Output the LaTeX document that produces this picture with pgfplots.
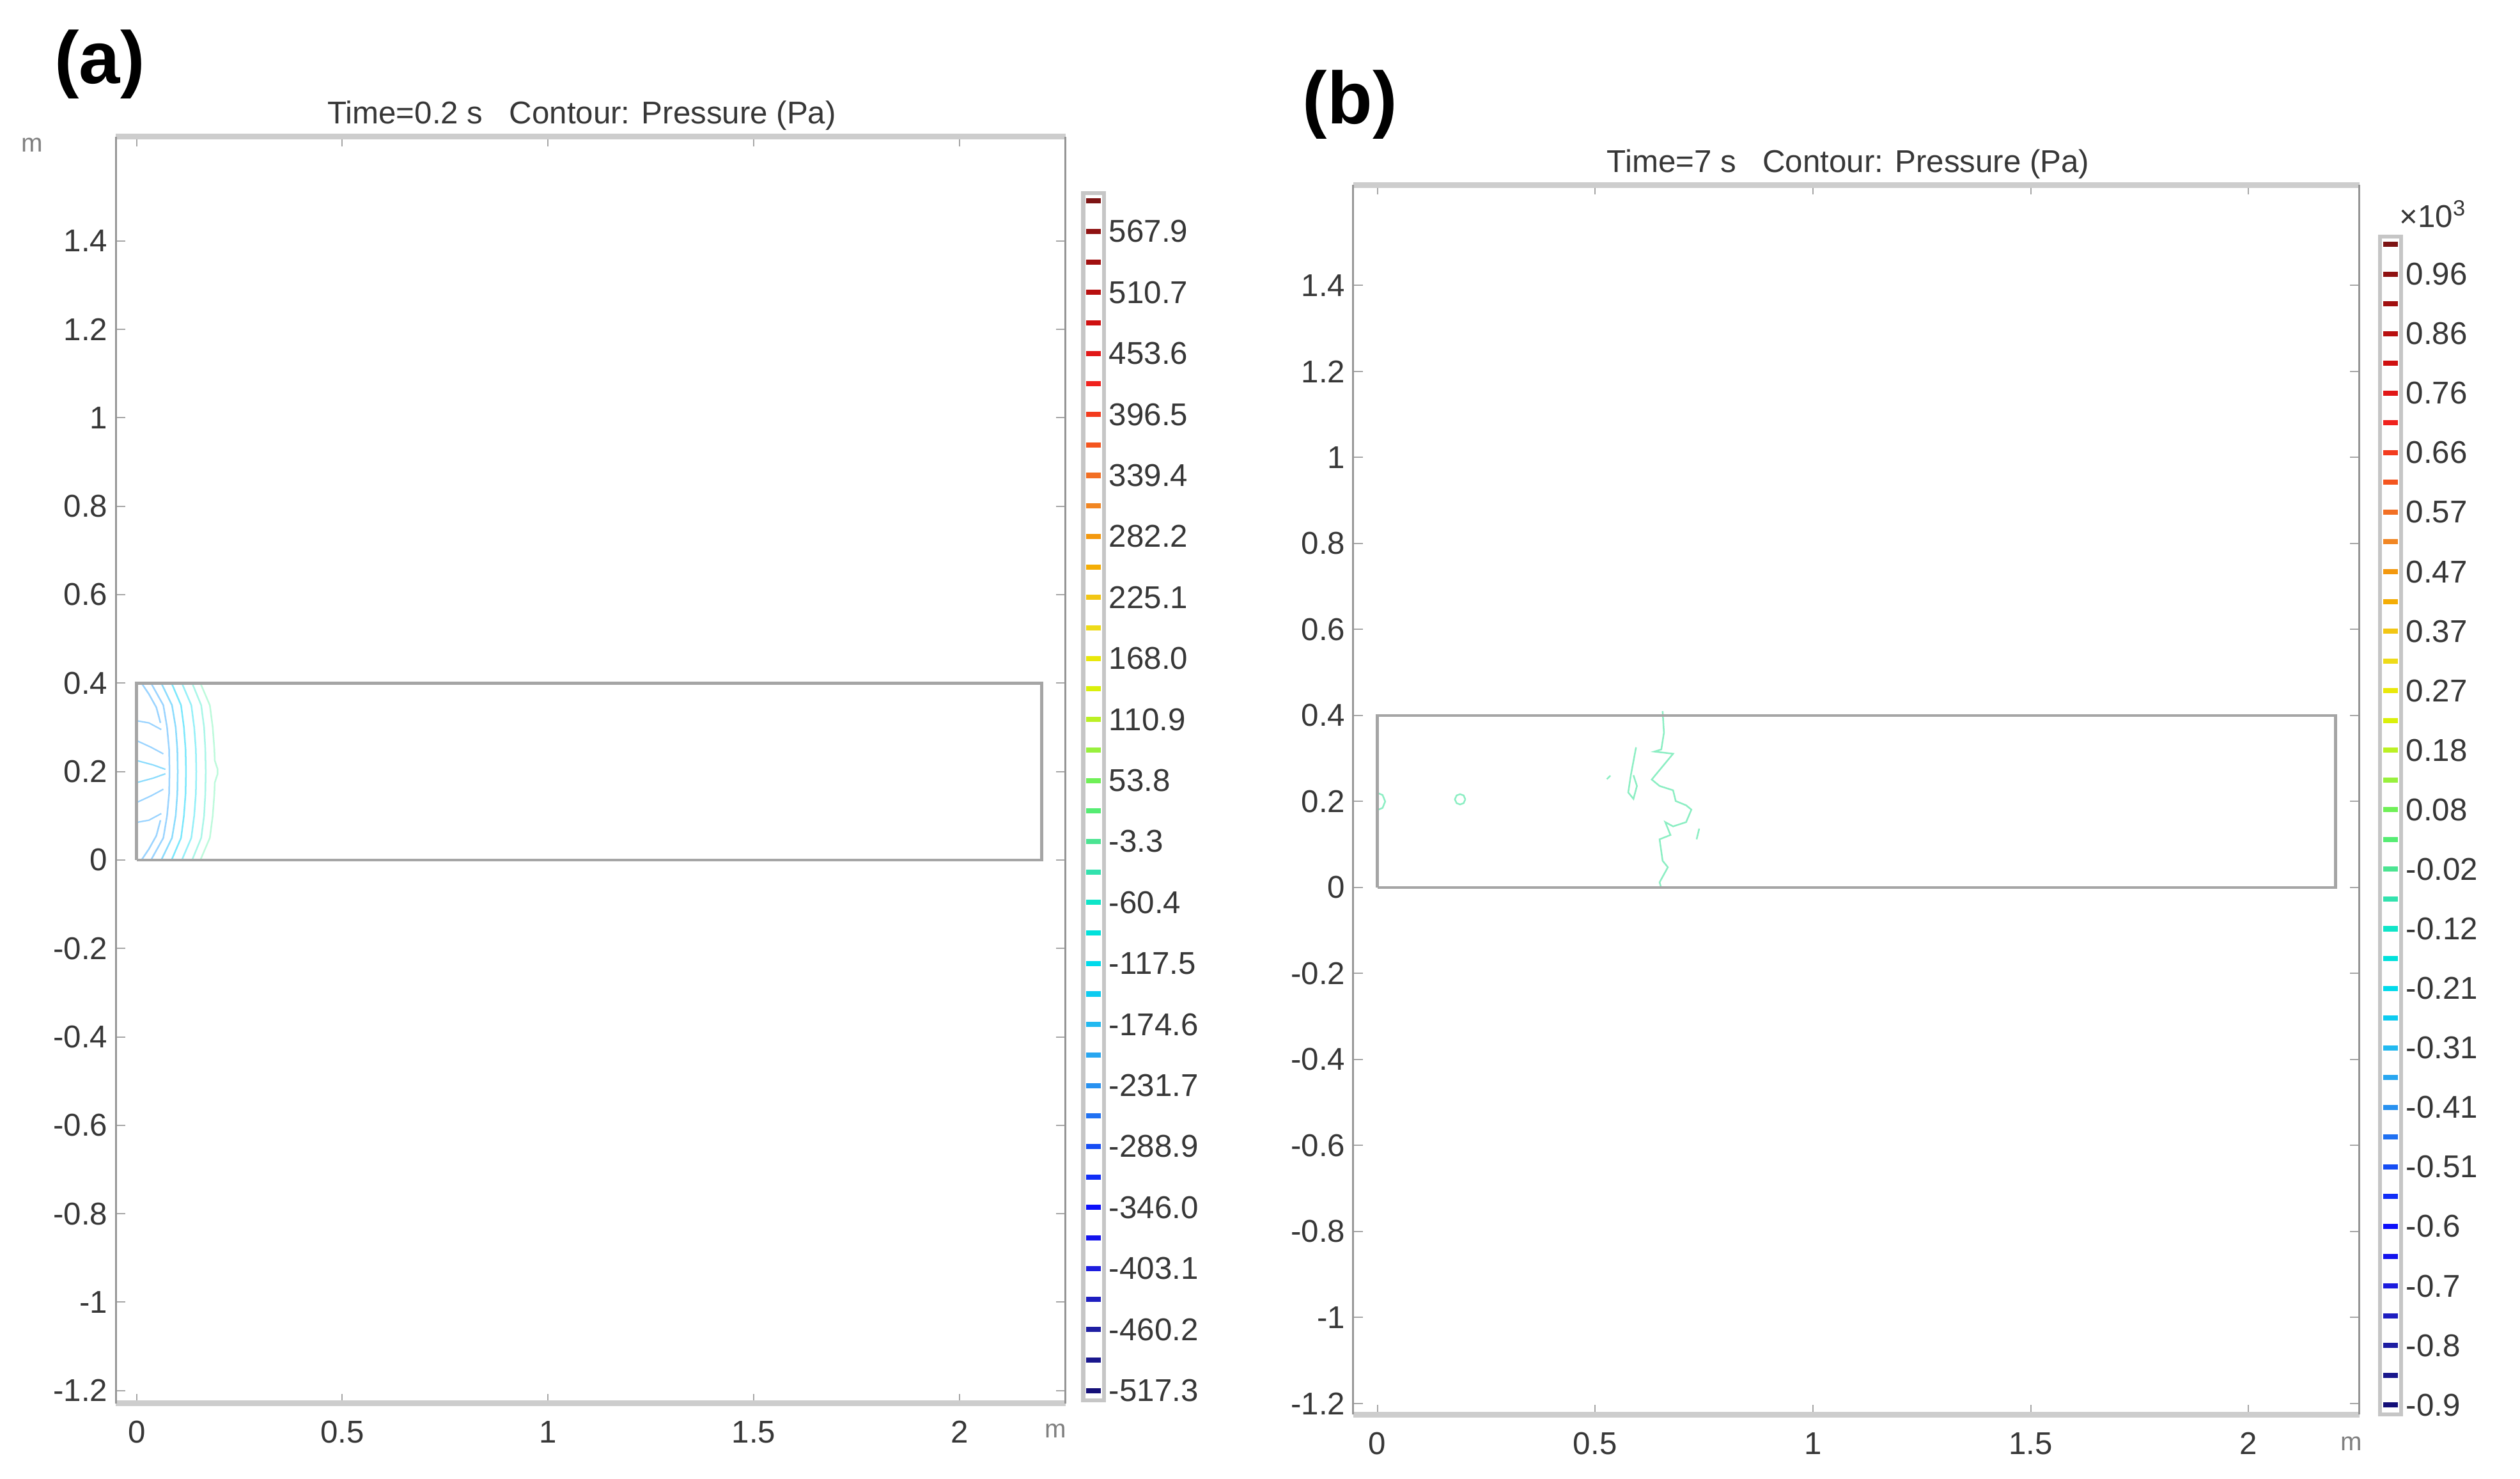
\documentclass[border=0pt]{standalone}
\usepackage{pgfplots}
\pgfplotsset{compat=1.18}
\usepackage{fontspec}
\setmainfont{Liberation Sans}
\setsansfont{Liberation Sans}
\definecolor{tickgray}{RGB}{55,55,55}
\definecolor{bandgray}{RGB}{205,205,205}
\definecolor{sidegray}{RGB}{150,150,150}
\definecolor{rectgray}{RGB}{165,165,165}
\definecolor{ca1}{RGB}{190,250,220}
\definecolor{ca2}{RGB}{170,246,232}
\definecolor{ca3}{RGB}{150,240,248}
\definecolor{ca4}{RGB}{125,232,252}
\definecolor{ca5}{RGB}{140,220,253}
\definecolor{ca6}{RGB}{155,212,255}
\definecolor{mint}{RGB}{140,238,195}
\pgfplotsset{colormap={comsol}{rgb255=(20,15,120) rgb255=(30,30,160) rgb255=(30,30,220) rgb255=(10,10,250) rgb255=(20,70,245) rgb255=(40,140,240) rgb255=(40,180,240) rgb255=(0,215,240) rgb255=(0,230,210) rgb255=(70,225,160) rgb255=(90,240,100) rgb255=(170,240,50) rgb255=(230,240,0) rgb255=(240,215,30) rgb255=(245,165,0) rgb255=(240,130,40) rgb255=(245,80,30) rgb255=(240,30,30) rgb255=(205,15,15) rgb255=(160,15,15) rgb255=(125,20,20)}}
\newcommand{\tf}{\fontsize{9.8}{10}\selectfont}
\pgfplotsset{
  comsolax/.style={
    scale only axis, separate axis lines,
    x axis line style={line width=1.8pt, bandgray},
    y axis line style={line width=0.6pt, sidegray},
    tick align=inside, major tick length=3pt,
    tick style={gray!70, line width=0.4pt},
    ticklabel style={font=\tf, text=tickgray},
    xtick={0,0.5,1,1.5,2}, xticklabels={0,0.5,1,1.5,2},
    xticklabel style={yshift=-2pt},
    ytick={-1.2,-1,-0.8,-0.6,-0.4,-0.2,0,0.2,0.4,0.6,0.8,1,1.2,1.4},
    yticklabels={-1.2,-1,-0.8,-0.6,-0.4,-0.2,0,0.2,0.4,0.6,0.8,1,1.2,1.4},
    yticklabel style={xshift=1pt},
  },
  cbar/.style={
    scale only axis, xmin=0, xmax=1, xtick=\empty,
    yticklabel pos=right, major tick length=0pt,
    axis line style={gray!45, line width=1.2pt},
    colormap name=comsol,
    yticklabel style={font=\tf, text=tickgray, xshift=-2pt},
  },
  cbarmarks/.style={scatter, only marks, mark=-, mark size=2.3pt, point meta=y,
    scatter/use mapped color={draw=mapped color, fill=mapped color},
    mark options={line width=1.6pt}},
}
\begin{document}
\begin{tikzpicture}
\useasboundingbox (0,0) rectangle (784pt,460pt);
% ---------------- panel (a) ----------------
\node[font=\fontsize{23}{25}\selectfont\bfseries] at (31pt,440pt) {(a)};
\node[font=\tf, text=tickgray] at (181pt,424pt) {Time=0.2 s \ \ Contour: Pressure (Pa)};
\node[font=\fontsize{8}{9}\selectfont, text=gray] at (10pt,415pt) {m};
\node[font=\fontsize{8}{9}\selectfont, text=gray] at (328.5pt,15pt) {m};
\begin{axis}[comsolax, at={(36pt,23.5pt)}, anchor=south west,
  width=295.5pt, height=394pt,
  xmin=-0.0508, xmax=2.258, ymin=-1.229, ymax=1.636]
\addplot[ca1, line width=0.5pt] coordinates {(0.155,0.4)(0.178,0.35)(0.185,0.3)(0.189,0.25)(0.19,0.225)(0.197,0.205)(0.197,0.195)(0.19,0.175)(0.189,0.15)(0.185,0.1)(0.178,0.05)(0.155,0)};
\addplot[ca2, line width=0.5pt] coordinates {(0.135,0.4)(0.157,0.35)(0.164,0.3)(0.167,0.25)(0.168,0.2)(0.167,0.15)(0.164,0.1)(0.157,0.05)(0.135,0)};
\addplot[ca3, line width=0.5pt] coordinates {(0.11,0.4)(0.133,0.35)(0.14,0.3)(0.144,0.25)(0.145,0.2)(0.144,0.15)(0.14,0.1)(0.133,0.05)(0.11,0)};
\addplot[ca4, line width=0.5pt] coordinates {(0.085,0.4)(0.108,0.35)(0.115,0.3)(0.119,0.25)(0.12,0.2)(0.119,0.15)(0.115,0.1)(0.108,0.05)(0.085,0)};
\addplot[ca5, line width=0.5pt] coordinates {(0.06,0.4)(0.086,0.35)(0.095,0.3)(0.099,0.25)(0.1,0.2)(0.099,0.15)(0.095,0.1)(0.086,0.05)(0.06,0)};
\addplot[ca6, line width=0.5pt] coordinates {(0.035,0.4)(0.065,0.35)(0.074,0.3)(0.079,0.25)(0.08,0.2)(0.079,0.15)(0.074,0.1)(0.065,0.05)(0.035,0)};
\addplot[ca6, line width=0.5pt] coordinates {(0.012,0.4)(0.03,0.375)(0.048,0.345)(0.058,0.31)};
\addplot[ca6, line width=0.5pt] coordinates {(0.012,0)(0.03,0.025)(0.048,0.055)(0.058,0.09)};
\addplot[ca6, line width=0.45pt] coordinates {(0,0.315)(0.03,0.31)(0.06,0.295)};
\addplot[ca6, line width=0.45pt] coordinates {(0,0.27)(0.035,0.255)(0.065,0.24)};
\addplot[ca5, line width=0.45pt] coordinates {(0,0.225)(0.04,0.215)(0.07,0.205)};
\addplot[ca5, line width=0.45pt] coordinates {(0,0.175)(0.04,0.185)(0.07,0.195)};
\addplot[ca6, line width=0.45pt] coordinates {(0,0.13)(0.035,0.145)(0.065,0.16)};
\addplot[ca6, line width=0.45pt] coordinates {(0,0.085)(0.03,0.09)(0.06,0.105)};
\addplot[rectgray, line width=0.9pt] coordinates {(0,0)(2.2,0)(2.2,0.4)(0,0.4)(0,0)};
\end{axis}
\begin{axis}[cbar, at={(337pt,24.5pt)}, anchor=south west,
  width=6.5pt, height=375.5pt, ymin=-526.33, ymax=603.99,
  point meta min=-517.3, point meta max=596.46,
  ytick={567.9,510.79,453.67,396.56,339.44,282.32,225.21,168.09,110.98,53.86,-3.26,-60.37,-117.49,-174.6,-231.72,-288.84,-345.95,-403.07,-460.18,-517.3},
  yticklabels={567.9,510.7,453.6,396.5,339.4,282.2,225.1,168.0,110.9,53.8,-3.3,-60.4,-117.5,-174.6,-231.7,-288.9,-346.0,-403.1,-460.2,-517.3}]
\addplot[cbarmarks] coordinates {
(0.5,-517.3)(0.5,-488.74)(0.5,-460.18)(0.5,-431.63)(0.5,-403.07)(0.5,-374.51)(0.5,-345.95)(0.5,-317.39)
(0.5,-288.84)(0.5,-260.28)(0.5,-231.72)(0.5,-203.16)(0.5,-174.6)(0.5,-146.05)(0.5,-117.49)(0.5,-88.93)
(0.5,-60.37)(0.5,-31.81)(0.5,-3.26)(0.5,25.3)(0.5,53.86)(0.5,82.42)(0.5,110.98)(0.5,139.53)
(0.5,168.09)(0.5,196.65)(0.5,225.21)(0.5,253.77)(0.5,282.32)(0.5,310.88)(0.5,339.44)(0.5,368.0)
(0.5,396.56)(0.5,425.11)(0.5,453.67)(0.5,482.23)(0.5,510.79)(0.5,539.35)(0.5,567.9)(0.5,596.46)};
\end{axis}
% ---------------- panel (b) ----------------
\node[font=\fontsize{23}{25}\selectfont\bfseries] at (420pt,427.5pt) {(b)};
\node[font=\tf, text=tickgray] at (575pt,409pt) {Time=7 s \ \ Contour: Pressure (Pa)};
\node[font=\fontsize{8}{9}\selectfont, text=gray] at (731.5pt,11pt) {m};
\node[font=\tf, text=tickgray] at (757pt,393.5pt) {×10\textsuperscript{3}};
\begin{axis}[comsolax, at={(421pt,20pt)}, anchor=south west,
  width=313pt, height=382.5pt,
  xmin=-0.0554, xmax=2.2546, ymin=-1.226, ymax=1.634]
\addplot[mint, line width=0.5pt] coordinates {(0,0.22)(0.012,0.215)(0.018,0.2)(0.012,0.185)(0,0.18)};
\addplot[mint, line width=0.5pt] coordinates {(0.202,0.205)(0.198,0.214)(0.19,0.217)(0.182,0.214)(0.178,0.205)(0.182,0.196)(0.19,0.193)(0.198,0.196)(0.202,0.205)};
\addplot[mint, line width=0.5pt] coordinates {(0.655,0.41)(0.658,0.36)(0.652,0.321)(0.636,0.316)(0.679,0.311)(0.63,0.251)(0.648,0.236)(0.679,0.226)(0.685,0.201)(0.709,0.191)(0.721,0.181)(0.709,0.152)(0.679,0.142)(0.661,0.152)(0.673,0.122)(0.648,0.112)(0.655,0.062)(0.667,0.047)(0.648,0.012)(0.652,-0.002)};
\addplot[mint, line width=0.5pt] coordinates {(0.594,0.326)(0.582,0.261)(0.576,0.221)(0.588,0.206)(0.596,0.236)(0.588,0.261)};
\addplot[mint, line width=0.5pt] coordinates {(0.527,0.252)(0.535,0.26)};
\addplot[mint, line width=0.5pt] coordinates {(0.739,0.137)(0.733,0.112)};
\addplot[rectgray, line width=0.9pt] coordinates {(0,0)(2.2,0)(2.2,0.4)(0,0.4)(0,0)};
\end{axis}
\begin{axis}[cbar, at={(740.5pt,20pt)}, anchor=south west,
  width=6.5pt, height=366.5pt, ymin=-0.9159, ymax=1.0221,
  point meta min=-0.9, point meta max=1.0089,
  ytick={0.96,0.8621,0.7642,0.6663,0.5684,0.4705,0.3726,0.2747,0.1768,0.0789,-0.0189,-0.1168,-0.2147,-0.3126,-0.4105,-0.5084,-0.6063,-0.7042,-0.8021,-0.9},
  yticklabels={0.96,0.86,0.76,0.66,0.57,0.47,0.37,0.27,0.18,0.08,-0.02,-0.12,-0.21,-0.31,-0.41,-0.51,-0.6,-0.7,-0.8,-0.9}]
\addplot[cbarmarks] coordinates {
(0.5,-0.9)(0.5,-0.8511)(0.5,-0.8021)(0.5,-0.7532)(0.5,-0.7042)(0.5,-0.6553)(0.5,-0.6063)(0.5,-0.5574)
(0.5,-0.5084)(0.5,-0.4595)(0.5,-0.4105)(0.5,-0.3616)(0.5,-0.3126)(0.5,-0.2637)(0.5,-0.2147)(0.5,-0.1658)
(0.5,-0.1168)(0.5,-0.0679)(0.5,-0.0189)(0.5,0.03)(0.5,0.0789)(0.5,0.1279)(0.5,0.1768)(0.5,0.2258)
(0.5,0.2747)(0.5,0.3237)(0.5,0.3726)(0.5,0.4216)(0.5,0.4705)(0.5,0.5195)(0.5,0.5684)(0.5,0.6174)
(0.5,0.6663)(0.5,0.7153)(0.5,0.7642)(0.5,0.8132)(0.5,0.8621)(0.5,0.9111)(0.5,0.96)(0.5,1.0089)};
\end{axis}
\end{tikzpicture}
\end{document}
